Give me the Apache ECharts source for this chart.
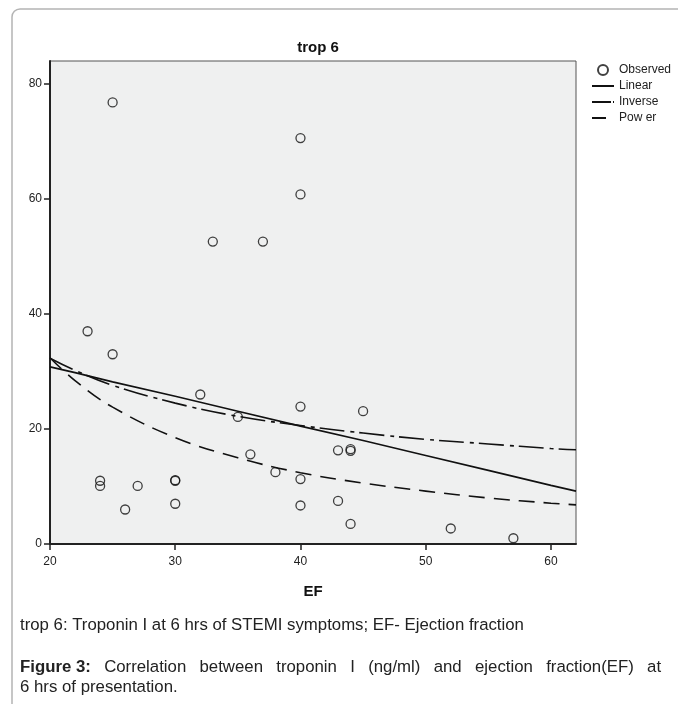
<!DOCTYPE html>
<html>
<head>
<meta charset="utf-8">
<script src="https://cdn.jsdelivr.net/npm/echarts@6/dist/echarts.min.js"></script>
<style>
  html, body { margin: 0; padding: 0; background: #fff; }
  #chart { width: 678px; height: 704px; }
</style>
</head>
<body>
<div id="chart"></div>
<script>
// observed points (EF, troponin I at 6 hrs)
var efObs   = [25, 40, 40, 33, 37, 23, 25, 32, 40, 45, 35, 43, 44, 44, 36, 38, 40, 24, 24, 27, 30, 30, 30, 26, 40, 43, 44, 52, 57];
var tropObs = [76.8, 70.6, 60.8, 52.6, 52.6, 37, 33, 26, 23.9, 23.1, 22.1, 16.3, 16.5, 16.2, 15.6, 12.5, 11.3, 11.0, 10.1, 10.1, 11.1, 11.0, 7.0, 6.0, 6.7, 7.5, 3.5, 2.7, 1.0];

// fitted curves
var fitX     = [20, 22, 25, 30, 35, 40, 45, 50, 55, 60, 62];
var linearY  = [30.8, 29.8, 28.2, 25.7, 23.1, 20.5, 18.0, 15.4, 12.8, 10.2, 9.2];
var inverseY = [32.3, 30.2, 27.6, 24.5, 22.2, 20.6, 19.3, 18.2, 17.4, 16.6, 16.4];
var powerY   = [32.4, 28.4, 23.8, 18.5, 15.0, 12.4, 10.6, 9.2, 8.0, 7.1, 6.8];

var xTicks = [20, 30, 40, 50, 60];
var yTicks = [0, 20, 40, 60, 80];

function pairs(xs, ys) {
  var out = [];
  for (var i = 0; i < xs.length; i++) out.push([xs[i], ys[i]]);
  return out;
}

var FONT = '"Liberation Sans", Arial, sans-serif';
var CAP = 16.8;
var chart = echarts.init(document.getElementById('chart'));

// caption line 2 is justified in the source, so word gaps are wider
var capWords = ['Correlation', 'between', 'troponin', 'I', '(ng/ml)', 'and', 'ejection', 'fraction(EF)', 'at'];
var capLine2 = '{b|Figure 3:}';
capWords.forEach(function (w) { capLine2 += '{g| }{t|' + w + '}'; });

var option = {
  backgroundColor: '#fff',
  animation: false,
  textStyle: { fontFamily: FONT },
  title: {
    text: 'trop 6',
    left: 313,
    top: 35,
    textAlign: 'center',
    textStyle: { fontFamily: FONT, fontSize: 15, fontWeight: 'bold', color: '#111' }
  },
  legend: {
    orient: 'vertical',
    left: 586,
    top: 59,
    itemGap: 4,
    itemWidth: 22,
    itemHeight: 10,
    textStyle: { fontFamily: FONT, fontSize: 12, color: '#222' },
    data: [
      'Observed',
      { name: 'Linear', itemStyle: { color: 'rgba(0,0,0,0)', borderWidth: 0 } },
      { name: 'Inverse', itemStyle: { color: 'rgba(0,0,0,0)', borderWidth: 0 }, lineStyle: { type: [19, 2, 2, 20] } },
      { name: 'Pow er', itemStyle: { color: 'rgba(0,0,0,0)', borderWidth: 0 }, lineStyle: { type: [14, 20] } }
    ]
  },
  grid: {
    left: 50, right: 102, top: 61, bottom: 160,
    show: true,
    backgroundColor: '#eff0f0',
    borderColor: '#555',
    borderWidth: 1
  },
  xAxis: {
    type: 'value',
    min: 20, max: 62,
    name: 'EF',
    nameLocation: 'middle',
    nameGap: 40,
    nameTextStyle: { fontFamily: FONT, fontSize: 15, fontWeight: 'bold', color: '#111' },
    splitLine: { show: false },
    axisLine: { lineStyle: { color: '#222', width: 2 } },
    axisTick: { length: 6, lineStyle: { color: '#222', width: 1.5 }, customValues: xTicks },
    axisLabel: { fontFamily: FONT, fontSize: 12, color: '#222', margin: 12, customValues: xTicks }
  },
  yAxis: {
    type: 'value',
    min: 0, max: 84,
    splitLine: { show: false },
    axisLine: { show: true, lineStyle: { color: '#222', width: 2 } },
    axisTick: { show: true, length: 6, lineStyle: { color: '#222', width: 1.5 }, customValues: yTicks },
    axisLabel: { fontFamily: FONT, fontSize: 12, color: '#222', margin: 8, customValues: yTicks }
  },
  series: [
    {
      name: 'Observed',
      type: 'scatter',
      symbol: 'circle',
      symbolSize: 9,
      itemStyle: { color: 'rgba(0,0,0,0)', borderColor: '#111', borderWidth: 1.3 },
      data: pairs(efObs, tropObs),
      z: 5
    },
    {
      name: 'Linear',
      type: 'line',
      symbol: 'none',
      lineStyle: { color: '#111', width: 1.6 },
      itemStyle: { color: '#111' },
      data: pairs(fitX, linearY)
    },
    {
      name: 'Inverse',
      type: 'line',
      symbol: 'none',
      smooth: 0.4,
      lineStyle: { color: '#111', width: 1.6, type: [25, 6, 4, 5] },
      itemStyle: { color: '#111' },
      data: pairs(fitX, inverseY)
    },
    {
      name: 'Pow er',
      type: 'line',
      symbol: 'none',
      smooth: 0.4,
      lineStyle: { color: '#111', width: 1.6, type: [16, 9] },
      itemStyle: { color: '#111' },
      data: pairs(fitX, powerY)
    }
  ],
  graphic: [
    {
      type: 'rect',
      shape: { x: 12, y: 9, width: 720, height: 760, r: 8 },
      style: { fill: 'none', stroke: '#b4b4b4', lineWidth: 1.5 },
      silent: true
    },
    {
      type: 'text',
      left: 20, top: 617,
      style: {
        text: 'trop 6: Troponin I at 6 hrs of STEMI symptoms; EF- Ejection fraction',
        font: CAP + 'px ' + FONT,
        fill: '#222'
      }
    },
    {
      type: 'text',
      left: 20, top: 659,
      style: {
        text: capLine2,
        font: CAP + 'px ' + FONT,
        fill: '#222',
        rich: {
          b: { fontWeight: 'bold', fontSize: CAP, fontFamily: FONT, fill: '#222' },
          t: { fontSize: CAP, fontFamily: FONT, fill: '#222' },
          g: { fontSize: CAP, fontFamily: FONT, width: 13.3 }
        }
      }
    },
    {
      type: 'text',
      left: 20, top: 679,
      style: {
        text: '6 hrs of presentation.',
        font: CAP + 'px ' + FONT,
        fill: '#222'
      }
    }
  ]
};

chart.setOption(option);
</script>
</body>
</html>
